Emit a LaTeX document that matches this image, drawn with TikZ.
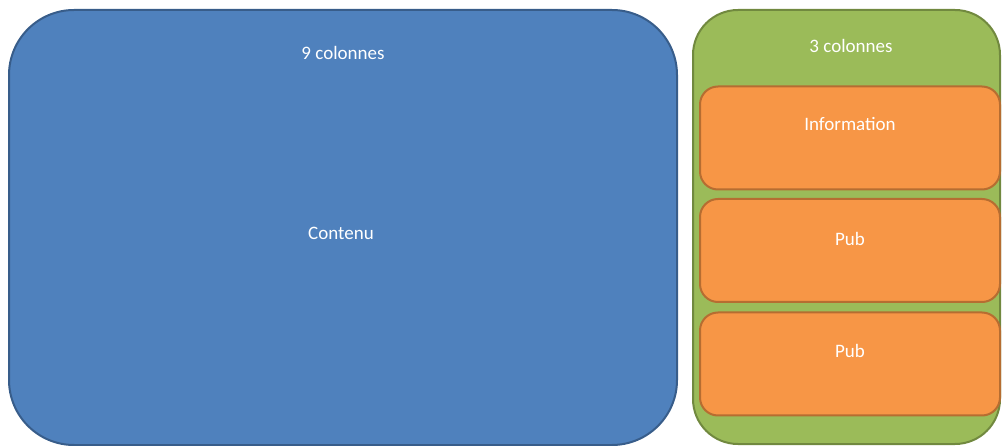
\documentclass[tikz,border=0pt]{standalone}
\usepackage{fontspec}
\setmainfont{Carlito}
\usetikzlibrary{positioning}
\definecolor{zoneblue}{HTML}{4F81BD}
\definecolor{zonebluedark}{HTML}{385D8A}
\definecolor{zonegreen}{HTML}{9BBB59}
\definecolor{zonegreendark}{HTML}{71893F}
\definecolor{zoneorange}{HTML}{F79646}
\definecolor{zoneorangedark}{HTML}{B66D31}
\begin{document}
\begin{tikzpicture}[
      x=1pt, y=-1pt,
      zone/.style={rounded corners=#1, line width=2pt, inner sep=0pt},
      main/.style={zone=65pt, draw=zonebluedark, fill=zoneblue, minimum width=668pt, minimum height=435pt},
      side/.style={zone=45pt, draw=zonegreendark, fill=zonegreen, minimum width=307pt, minimum height=434pt},
      bloc/.style={zone=18pt, draw=zoneorangedark, fill=zoneorange, minimum width=300pt, minimum height=103pt},
      txt/.style={text=white, font=\fontsize{19}{22}\selectfont, inner sep=0pt}
    ]
      \useasboundingbox (0,0) rectangle (1002,446);

      % Contenu principal (gauche)
      \node[main] (contenu) at (343,227.5) {};
      \node[txt] at (343,53) {9 colonnes};
      \node[txt] at (341,233) {Contenu};

      % Barre laterale (droite)
      \node[side] (lateral) at (846.5,227) {};
      \node[txt] at (851,46) {3 colonnes};

      \node[bloc] (info) at (850,138) {};
      \node[bloc] (pubA) at (850,250.5) {};
      \node[bloc] (pubB) at (850,364) {};

      \node[txt] at ([yshift=-39pt]info.north) {Information};
      \node[txt] at ([yshift=-41pt]pubA.north) {Pub};
      \node[txt] at ([yshift=-39pt]pubB.north) {Pub};
    \end{tikzpicture}
\end{document}
